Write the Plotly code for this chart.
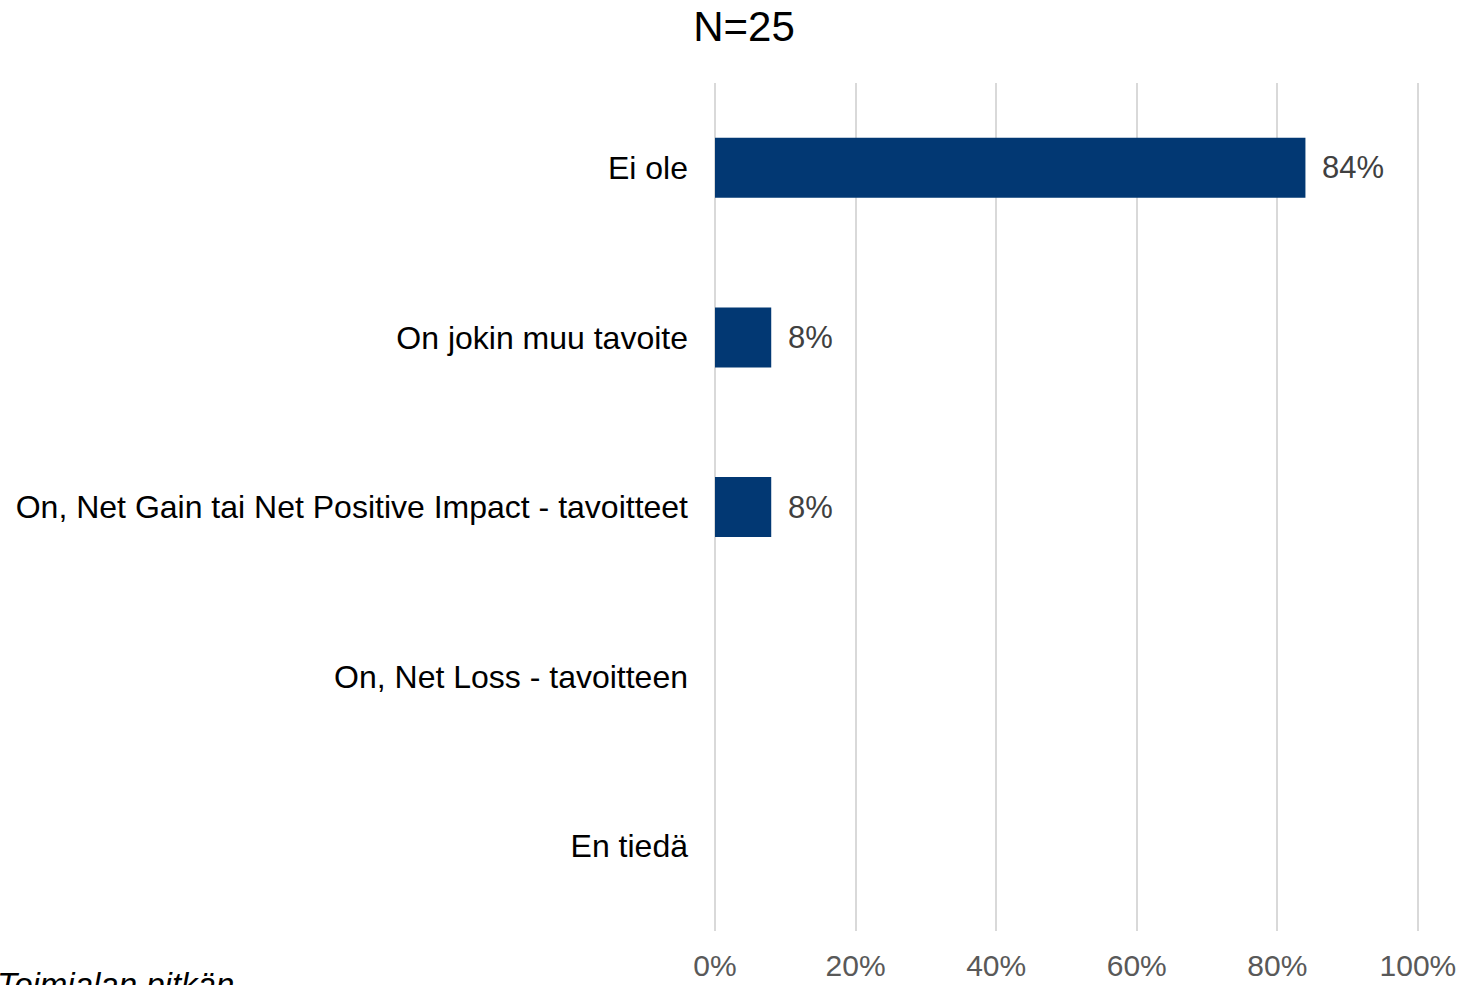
import plotly.graph_objects as go

categories = [
    "Ei ole",
    "On jokin muu tavoite",
    "On, Net Gain tai Net Positive Impact - tavoitteet",
    "On, Net Loss - tavoitteen",
    "En tiedä",
]
values = [84, 8, 8, 0, 0]
tick_vals = [0, 20, 40, 60, 80, 100]
tick_text = ["0%", "20%", "40%", "60%", "80%", "100%"]
title_text = "N=25"
footer_text = "Toimialan pitkän"

W, H = 1463, 985
X_MAX = 100.3
L, T, B = 715, 83, 54
R = round(W - L - 703 * X_MAX / 100)
plot_w = W - L - R
plot_h = H - T - B

FONT = "Liberation Sans, Arial, sans-serif"
BAR = "#023873"

fig = go.Figure()
fig.add_trace(go.Bar(
    x=values, y=categories, orientation="h",
    marker=dict(color=BAR, line=dict(width=0)),
    width=0.354,
    hoverinfo="x+y",
))

for c, v in zip(categories, values):
    if v > 0:
        fig.add_annotation(
            x=v, y=c, xref="x", yref="y", text=f"{v}%",
            showarrow=False, xanchor="left", yanchor="middle", xshift=15,
            font=dict(family=FONT, size=31, color="#404040"),
        )

fig.add_annotation(
    x=-(L + 5) / plot_w, y=-33 / plot_h,
    xref="paper", yref="paper", text=f"<i>{footer_text}</i>",
    showarrow=False, xanchor="left", yanchor="top",
    font=dict(family=FONT, size=33, color="#000000"),
)

fig.update_layout(
    width=W, height=H,
    margin=dict(l=L, r=R, t=T, b=B, pad=0, autoexpand=False),
    paper_bgcolor="white", plot_bgcolor="white",
    showlegend=False,
    title=dict(text=title_text, x=744 / W, xanchor="center", xref="container",
               y=1 - 26 / H, yanchor="middle", yref="container",
               font=dict(family=FONT, size=42, color="#000000")),
    xaxis=dict(
        range=[0, X_MAX], tickvals=tick_vals, ticktext=tick_text,
        showgrid=True, gridcolor="#d9d9d9", gridwidth=2,
        zeroline=True, zerolinecolor="#d9d9d9", zerolinewidth=2,
        showline=False, ticks="", automargin=False,
        tickfont=dict(family=FONT, size=30, color="#595959"),
        ticklabelstandoff=14, fixedrange=True,
    ),
    yaxis=dict(
        autorange="reversed", showgrid=False, zeroline=False, showline=False,
        ticks="", automargin=False,
        tickfont=dict(family=FONT, size=32, color="#000000"),
        ticklabelstandoff=26, fixedrange=True,
    ),
    bargap=0.646,
)

fig.write_html(
    "out.html",
    config={"displayModeBar": False},
    post_script="document.body.style.margin='0';document.body.style.overflow='hidden';",
)
